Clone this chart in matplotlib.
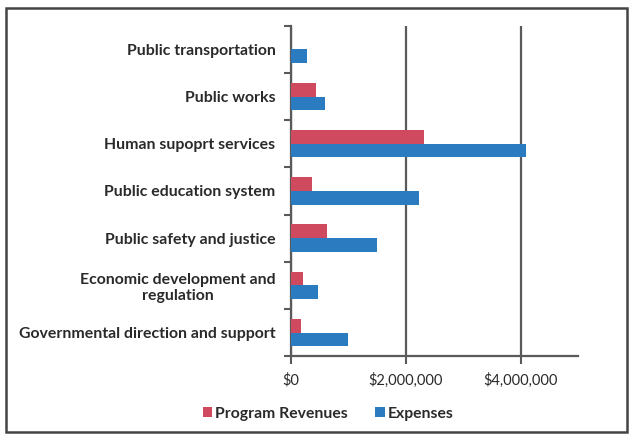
import matplotlib.pyplot as plt
import matplotlib.ticker as mticker
import numpy as np

# Programmausgaben und -einnahmen nach Bereich (unten -> oben)
bereiche = ["Governmental direction and support",
            "Economic development and\nregulation",
            "Public safety and justice",
            "Public education system",
            "Human supoprt services",
            "Public works",
            "Public transportation"]
einnahmen = [180000, 210000, 630000, 360000, 2320000, 430000, 0]
ausgaben = [990000, 470000, 1500000, 2230000, 4100000, 600000, 285000]

ROT = '#CF4A5E'
BLAU = '#2B7BC0'
GRAU = '#5a5a5a'
TEXT = '#2a2a2a'

plt.rcParams['font.family'] = ['Lato', 'DejaVu Sans']

fig = plt.figure(figsize=(6.31, 4.37), dpi=100)
ax = fig.add_axes([0.461, 0.185, 0.455, 0.756])

y = np.arange(len(bereiche))
h = 0.29
ax.barh(y + h / 2, einnahmen, height=h, color=ROT, label='Program Revenues', zorder=3)
ax.barh(y - h / 2, ausgaben, height=h, color=BLAU, label='Expenses', zorder=3)

ax.set_xlim(0, 5000000)
ax.set_ylim(-0.5, len(bereiche) - 0.5)
ax.set_xticks([0, 2000000, 4000000])
ax.xaxis.set_major_formatter(mticker.FuncFormatter(lambda v, p: '${:,.0f}'.format(v)))
ax.grid(axis='x', color=GRAU, lw=1.6, zorder=1)

# Trennstriche zwischen den Kategorien, Beschriftung in der Mitte
ax.set_yticks(np.arange(-0.5, len(bereiche), 1.0))
ax.set_yticklabels([])
ax.set_yticks(y, minor=True)
ax.set_yticklabels(bereiche, minor=True, fontsize=11.4, fontweight='bold',
                   color=TEXT, multialignment='center')
ax.tick_params(axis='y', which='major', length=5, width=1.5, color=GRAU, direction='out')
ax.tick_params(axis='y', which='minor', length=0, pad=11)
ax.tick_params(axis='x', length=6, width=1.5, color=GRAU, labelsize=10.5, pad=6,
               labelcolor=TEXT)

for s in ['top', 'right']:
    ax.spines[s].set_visible(False)
for s in ['left', 'bottom']:
    ax.spines[s].set_color(GRAU)
    ax.spines[s].set_linewidth(1.6)

leg = fig.legend(loc='lower center', bbox_to_anchor=(0.52, 0.005), ncol=2, frameon=False,
                 prop={'weight': 'bold', 'size': 11.3},
                 handlelength=0.62, handleheight=0.62, handletextpad=0.2, columnspacing=1.7)
for t in leg.get_texts():
    t.set_color(TEXT)

# Rahmen um die ganze Grafik
rahmen = plt.Rectangle((0.009, 0.012), 0.985, 0.97, transform=fig.transFigure,
                       fill=False, edgecolor='#444444', lw=1.8)
fig.patches.append(rahmen)

fig.savefig('out.png', dpi=100)
